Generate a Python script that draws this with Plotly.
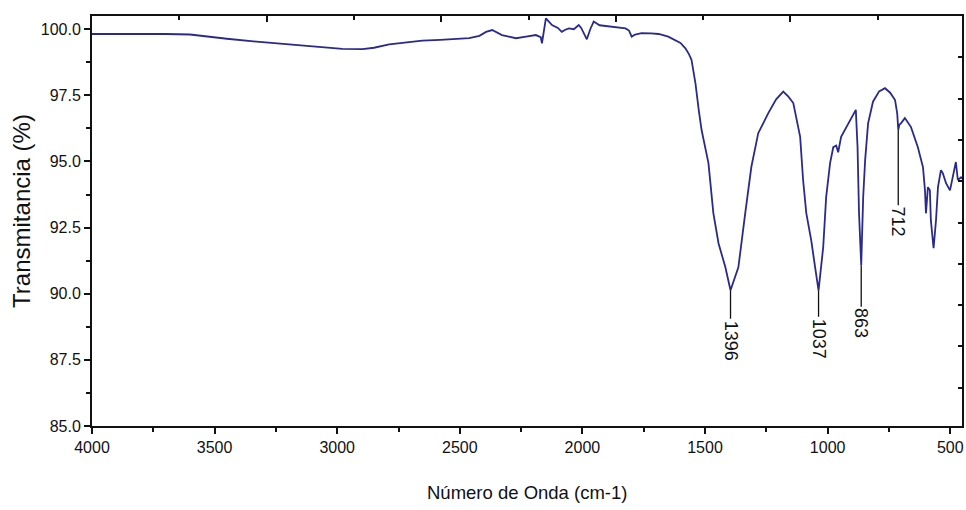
import plotly.graph_objects as go

# ---------------- data ----------------
wavenumber = [4000, 3900, 3800, 3700, 3600, 3532, 3450, 3329, 3230, 3125, 3050, 2979,
              2897, 2850, 2788, 2720, 2653, 2580, 2515, 2462, 2420, 2393, 2368, 2345,
              2328, 2300, 2271, 2230, 2190, 2170, 2165, 2149, 2135, 2124, 2100, 2084,
              2070, 2055, 2035, 2015, 2005, 1994, 1982, 1968, 1954, 1930, 1893, 1860,
              1824, 1810, 1799, 1785, 1759, 1720, 1689, 1650, 1620, 1600, 1580, 1565,
              1555, 1539, 1525, 1514, 1486, 1466, 1445, 1417, 1396, 1364, 1336, 1311,
              1283, 1242, 1210, 1181, 1160, 1140, 1112, 1100, 1087, 1067, 1051, 1037,
              1018, 1006, 990, 977, 965, 957, 945, 916, 892, 885, 878, 872, 863, 855,
              847, 835, 815, 790, 766, 745, 725, 716, 712, 707, 701, 685, 660, 632,
              611, 603, 599, 591, 583, 579, 568, 558, 550, 538, 530, 517, 501, 489,
              477, 469, 456, 452]
transmittance = [99.82, 99.82, 99.83, 99.82, 99.80, 99.72, 99.64, 99.53, 99.46, 99.38, 99.32, 99.26,
                 99.25, 99.30, 99.43, 99.50, 99.57, 99.60, 99.62, 99.66, 99.75, 99.90, 99.97, 99.85,
                 99.78, 99.72, 99.66, 99.72, 99.78, 99.70, 99.47, 100.41, 100.25, 100.16, 100.05, 99.90,
                 99.98, 100.03, 100.00, 100.16, 100.05, 99.85, 99.62, 100.00, 100.29, 100.15, 100.10, 100.05,
                 100.03, 99.95, 99.72, 99.80, 99.85, 99.84, 99.82, 99.72, 99.59, 99.48, 99.28, 99.05,
                 98.84, 97.95, 96.90, 96.19, 94.94, 93.05, 91.91, 91.00, 90.13, 91.00, 93.05, 94.80,
                 96.07, 96.83, 97.35, 97.64, 97.45, 97.21, 95.93, 94.30, 93.05, 92.03, 91.00, 90.13,
                 91.76, 93.65, 94.94, 95.54, 95.60, 95.35, 95.93, 96.44, 96.87, 96.95, 95.55, 93.05, 91.08, 93.65,
                 95.05, 96.44, 97.26, 97.65, 97.77, 97.60, 97.32, 96.80, 96.20, 96.40, 96.44, 96.64, 96.30, 95.54,
                 94.78, 93.91, 93.04, 94.03, 93.91, 92.78, 91.72, 92.78, 94.03, 94.67, 94.55, 94.18, 93.91, 94.40,
                 94.98, 94.30, 94.40, 94.35]

peak_labels = ["1396", "1037", "863", "712"]
peak_x = [1396, 1037, 863, 712]
peak_y = [90.13, 90.13, 91.08, 96.20]
peak_leader = [50, 48, 58, 92]

y_ticks = [85.0, 87.5, 90.0, 92.5, 95.0, 97.5, 100.0]
x_ticks = [4000, 3500, 3000, 2500, 2000, 1500, 1000, 500]

tick_font = dict(family="Liberation Sans, Arial", size=16, color="#111111")
label_font = dict(family="Liberation Sans, Arial", size=18, color="#111111")

fig = go.Figure()
fig.add_trace(go.Scatter(x=wavenumber, y=transmittance, mode="lines",
                         line=dict(color="#2a2a8c", width=1.8), showlegend=False, hoverinfo="skip"))
# dummy trace so that the top/right tick axes are drawn
fig.add_trace(go.Scatter(x=[None], y=[None], xaxis="x2", yaxis="y2", showlegend=False, hoverinfo="skip"))

for lbl, px, py, ld in zip(peak_labels, peak_x, peak_y, peak_leader):
    fig.add_annotation(x=px, y=py, xref="x", yref="y", text=lbl, textangle=90,
                       showarrow=True, arrowhead=0, arrowwidth=1.3, arrowcolor="#111111",
                       ax=0, ay=ld, font=label_font)

fig.add_annotation(x=-70 / 872, y=0.525, xref="paper", yref="paper", text="Transmitancia (%)",
                   textangle=-90, showarrow=False, xanchor="center", yanchor="middle",
                   font=dict(family="Liberation Sans, Arial", size=24, color="#111111"))
fig.add_annotation(x=0.5, y=-67 / 410, xref="paper", yref="paper", text="Número de Onda (cm-1)",
                   showarrow=False, xanchor="center", yanchor="middle",
                   font=dict(family="Liberation Sans, Arial", size=18.5, color="#111111"))

fig.update_layout(
    width=966, height=510,
    margin=dict(l=92, r=2, t=16, b=84),
    paper_bgcolor="white", plot_bgcolor="white",
    xaxis=dict(range=[4000, 452], tickvals=x_ticks, tickformat="d", ticks="outside", ticklen=6,
               tickwidth=2, tickcolor="#111111", showline=True, linewidth=2, linecolor="#111111",
               mirror=True, showgrid=False, zeroline=False, tickfont=tick_font,
               minor=dict(dtick=250, ticks="outside", ticklen=4, tickwidth=1.5, tickcolor="#111111", showgrid=False)),
    yaxis=dict(range=[85, 100.5], tickvals=y_ticks, tickformat=".1f", ticks="outside", ticklen=6,
               tickwidth=2, tickcolor="#111111", showline=True, linewidth=2, linecolor="#111111",
               mirror=True, showgrid=False, zeroline=False, tickfont=tick_font,
               minor=dict(dtick=1.25, ticks="outside", ticklen=4, tickwidth=1.5, tickcolor="#111111", showgrid=False)),
    xaxis2=dict(overlaying="x", side="top", range=[0, 872 / 87.5], tickvals=[2, 4, 6, 8],
                ticks="inside", ticklen=6, tickwidth=1.5, tickcolor="#111111", showticklabels=False,
                showgrid=False, zeroline=False, showline=False,
                minor=dict(tickvals=[1, 3, 5, 7, 9], ticks="inside", ticklen=4, tickwidth=1.5,
                           tickcolor="#111111", showgrid=False)),
    yaxis2=dict(overlaying="y", side="right", range=[410 / 41.3, 0], tickvals=[1, 2, 3, 4, 5, 6, 7, 8, 9],
                ticks="inside", ticklen=4, tickwidth=1.5, tickcolor="#111111", showticklabels=False,
                showgrid=False, zeroline=False, showline=False),
)

fig.write_html(
    "out.html",
    config={"displayModeBar": False},
    post_script=("document.body.style.margin='0';"
                 "document.body.style.overflow='hidden';"
                 "document.documentElement.style.overflow='hidden';"),
)
